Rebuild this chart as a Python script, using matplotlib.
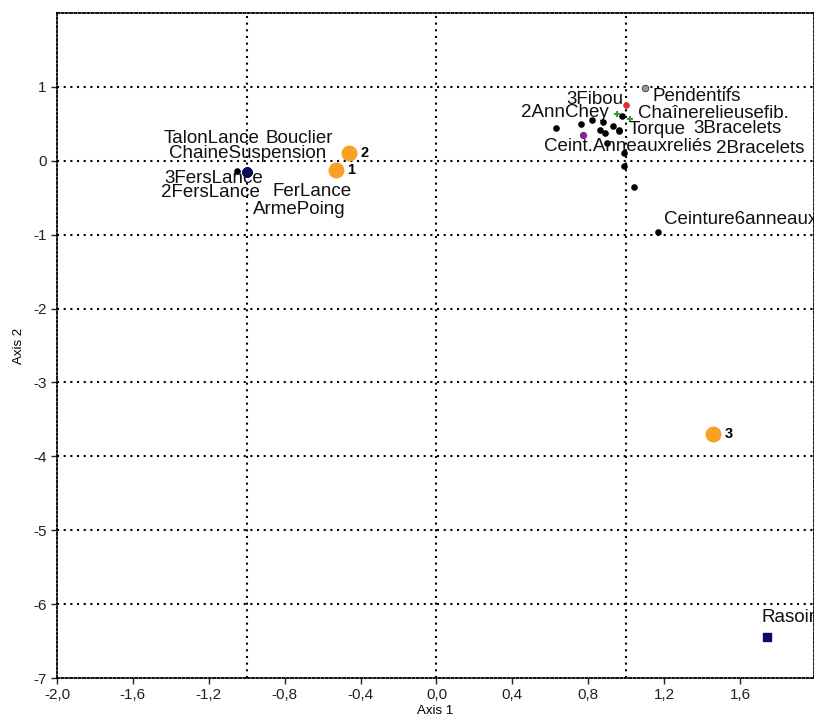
import matplotlib
matplotlib.use("Agg")
import matplotlib.pyplot as plt
from matplotlib.ticker import FuncFormatter

plt.rcParams["font.family"] = ["Liberation Sans", "DejaVu Sans"]

# Groups (orange circles)
group_names = ["1", "2", "3"]
group_x = [-0.53, -0.46, 1.46]
group_y = [-0.12, 0.11, -3.70]

# Labelled objects
obj_names = ["TalonLance", "Bouclier", "ChaineSuspension", "3FersLance",
             "2FersLance", "FerLance", "ArmePoing",
             "Pendentifs", "3Fibou", "2AnnChey", "Chaînerelieusefib.",
             "Torque", "3Bracelets", "Ceint.Anneauxreliés", "2Bracelets",
             "Ceinture6anneaux", "Rasoir"]
obj_x = [-1.00, -1.00, -1.00, -1.00, -1.00, -1.00, -1.00,
         1.10, 1.00, 0.95, 1.02, 0.96, 0.93, 0.77, 0.90, 1.17, 1.74]
obj_y = [-0.15, -0.15, -0.15, -0.15, -0.15, -0.15, -0.15,
         0.99, 0.76, 0.63, 0.57, 0.40, 0.47, 0.35, 0.24, -0.97, -6.45]

# Unlabelled objects (small black dots)
dot_x = [-1.05, 0.63, 0.76, 0.82, 0.88, 0.98, 0.86, 0.89, 0.96, 0.99, 0.99, 1.04]
dot_y = [-0.14, 0.45, 0.50, 0.55, 0.53, 0.61, 0.42, 0.38, 0.42, 0.11, -0.07, -0.36]

# Text offsets in points, and alignment, per label
label_style = {
    "TalonLance":          ((-25, 24), "center"),
    "Bouclier":            ((38, 24), "center"),
    "ChaineSuspension":    ((1, 13), "center"),
    "3FersLance":          ((-24, -5), "center"),
    "2FersLance":          ((-26, -15), "center"),
    "FerLance":            ((47, -14), "center"),
    "ArmePoing":           ((38, -27), "center"),
    "Pendentifs":          ((5, -6.5), "left"),
    "3Fibou":              ((-2, 4), "right"),
    "2AnnChey":            ((-6, 1), "right"),
    "Chaînerelieusefib.":  ((6, 3.5), "left"),
    "Torque":              ((7, 1.5), "left"),
    "3Bracelets":          ((58, -2), "left"),
    "Ceint.Anneauxreliés": ((-28, -8), "left"),
    "2Bracelets":          ((78, -3.6), "left"),
    "Ceinture6anneaux":    ((4, 9), "left"),
    "Rasoir":              ((-4, 14), "left"),
}

xticks = [-2.0, -1.6, -1.2, -0.8, -0.4, 0.0, 0.4, 0.8, 1.2, 1.6]
yticks = [-7, -6, -5, -4, -3, -2, -1, 0, 1]
grid_x = [-1, 0, 1]
grid_y = [-6, -5, -4, -3, -2, -1, 0, 1]

fig = plt.figure(figsize=(8.14, 7.25), dpi=100)
ax = fig.add_axes([57 / 814, 47 / 725, 757 / 814, 665 / 725])

dot_style = dict(color="black", linewidth=1.5, linestyle=(0, (1, 2.2)), zorder=1)
for gx in grid_x:
    ax.axvline(gx, **dot_style)
for gy in grid_y:
    ax.axhline(gy, **dot_style)

# unlabelled dots
ax.scatter(dot_x, dot_y, s=14, color="black", zorder=3)

# labelled objects, coloured by type
for i, (name, x, y) in enumerate(zip(obj_names, obj_x, obj_y)):
    if name == "Rasoir":
        ax.scatter(x, y, s=28, marker="s", color="#0b0b6e", zorder=4)
    elif i < 7:
        ax.scatter(x, y, s=40, marker="o", color="#0b0b6e", zorder=4)
    elif name == "Pendentifs":
        ax.scatter(x, y, s=22, color="#9a9a9a", edgecolors="#333333", linewidths=0.6, zorder=4)
    elif name == "3Fibou":
        ax.scatter(x, y, s=14, color="#d83030", zorder=4)
    elif name in ("Chaînerelieusefib.", "2AnnChey"):
        ax.scatter(x, y, s=20, marker="+", color="#2ca02c", linewidths=1.5, zorder=4)
    elif name == "Ceint.Anneauxreliés":
        ax.scatter(x, y, s=18, color="#7b2a8a", zorder=4)
    else:
        ax.scatter(x, y, s=14, color="black", zorder=4)

for name, x, y in zip(obj_names, obj_x, obj_y):
    off, ha = label_style[name]
    ax.annotate(name, (x, y), textcoords="offset points", xytext=off,
                ha=ha, va="center", fontsize=13.5, color="#111111", zorder=6)

# groups
ax.scatter(group_x, group_y, s=110, color="#f8a127", zorder=5)
for name, x, y in zip(group_names, group_x, group_y):
    ax.annotate(name, (x, y), textcoords="offset points", xytext=(8, 0),
                ha="left", va="center", fontsize=10.5, fontweight="bold")

ax.set_xlim(-2.0, 1.99)
ax.set_ylim(-7.0, 2.0)
ax.set_xticks(xticks)
ax.set_yticks(yticks)
ax.xaxis.set_major_formatter(FuncFormatter(lambda v, p: f"{v:.1f}".replace(".", ",")))
ax.yaxis.set_major_formatter(FuncFormatter(lambda v, p: f"{v:.0f}"))
ax.tick_params(direction="out", length=4, width=1, labelsize=11, colors="#222222")

for sp in ax.spines.values():
    sp.set_linestyle((0, (1.2, 1.2)))
    sp.set_linewidth(1.3)

ax.set_xlabel("Axis 1", fontsize=9.5, labelpad=2)
ax.set_ylabel("Axis 2", fontsize=9.5, labelpad=6)

fig.savefig("out.png", dpi=100)
